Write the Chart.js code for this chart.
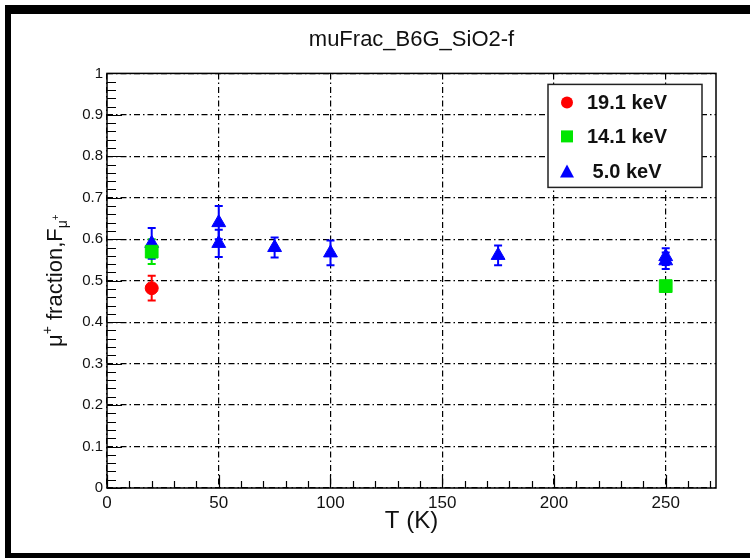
<!DOCTYPE html>
<html>
<head>
<meta charset="utf-8">
<script src="https://cdn.jsdelivr.net/npm/chart.js@4.4.0/dist/chart.umd.min.js"></script>
<style>
    html, body { margin: 0; padding: 0; background: #fff; }
    #wrap { position: relative; width: 750px; height: 558px; overflow: hidden; }
    #frame {
        position: absolute; left: 5px; top: 5px; width: 745px; height: 553px;
        box-sizing: border-box; pointer-events: none;
        border-top: 9px solid #000; border-left: 6px solid #000; border-bottom: 5px solid #000;
    }
    canvas { position: absolute; left: 0; top: 0; }
</style>
</head>
<body>
<div id="wrap">
    <canvas id="chart" width="750" height="558"></canvas>
    <div id="frame"></div>
</div>
<script>
// chart texts
const chartTitle = 'muFrac_B6G_SiO2-f';
const xTitle = 'T (K)';
const seriesLabels = ['19.1 keV', '14.1 keV', '5.0 keV'];
const seriesColors = ['#ff0000', '#00e600', '#0000ff'];
const seriesStyles = ['circle', 'rect', 'triangle'];

// 19.1 keV
const temps19 = [20];
const frac19 = [0.482];
const err19 = [0.03];

// 14.1 keV
const temps14 = [20, 250];
const frac14 = [0.57, 0.487];
const err14 = [0.03, 0.01];

// 5.0 keV
const temps5 = [20, 50, 50, 75, 100, 175, 250, 250];
const frac5 = [0.59, 0.64, 0.59, 0.58, 0.567, 0.561, 0.558, 0.548];
const err5 = [0.037, 0.04, 0.033, 0.024, 0.03, 0.024, 0.02, 0.02];

// axes
const xMin = 0, xMax = 272.5, xStep = 50, xMinorStep = 10;
const yMin = 0, yMax = 1, yStep = 0.1, yMinorStep = 0.02;

const FONT = "'Liberation Sans', Arial, sans-serif";

const toPoints = (xs, ys, es) => xs.map((x, i) => ({ x: x, y: ys[i], err: es[i] }));

const allSeries = [
    toPoints(temps19, frac19, err19),
    toPoints(temps14, frac14, err14),
    toPoints(temps5, frac5, err5),
];

const radii = [6.5, 9, 8];

const datasets = allSeries.map((pts, i) => ({
    label: seriesLabels[i],
    data: pts,
    pointStyle: seriesStyles[i],
    pointRadius: radii[i],
    pointBackgroundColor: seriesColors[i],
    pointBorderColor: seriesColors[i],
    pointBorderWidth: 1,
    showLine: false,
}));

// ROOT-like decorations: error bars, frame, minor ticks, legend, y title
const rootDecor = {
    id: 'rootDecor',
    beforeDatasetsDraw(chart) {
        const ctx = chart.ctx;
        const xs = chart.scales.x, ys = chart.scales.y;
        ctx.save();
        ctx.lineWidth = 2;
        chart.data.datasets.forEach((ds, i) => {
            ctx.strokeStyle = seriesColors[i];
            ds.data.forEach((p) => {
                const px = xs.getPixelForValue(p.x);
                const top = ys.getPixelForValue(p.y + p.err);
                const bot = ys.getPixelForValue(p.y - p.err);
                ctx.beginPath();
                ctx.moveTo(px, top); ctx.lineTo(px, bot);
                ctx.moveTo(px - 4, top); ctx.lineTo(px + 4, top);
                ctx.moveTo(px - 4, bot); ctx.lineTo(px + 4, bot);
                ctx.stroke();
            });
        });
        ctx.restore();
    },
    afterDraw(chart) {
        const ctx = chart.ctx;
        const a = chart.chartArea;
        const xs = chart.scales.x, ys = chart.scales.y;
        ctx.save();

        // frame
        ctx.strokeStyle = '#000';
        ctx.lineWidth = 1.5;
        ctx.strokeRect(a.left, a.top, a.right - a.left, a.bottom - a.top);

        // ticks
        ctx.lineWidth = 1.2;
        ctx.beginPath();
        for (let v = yMin; v <= yMax + 1e-9; v += yMinorStep) {
            const major = Math.abs(v / yStep - Math.round(v / yStep)) < 1e-6;
            const py = Math.round(ys.getPixelForValue(v)) + 0.5;
            ctx.moveTo(a.left, py);
            ctx.lineTo(a.left + (major ? 15 : 9), py);
        }
        for (let v = xMin; v <= xMax + 1e-9; v += xMinorStep) {
            const major = v % xStep === 0;
            const px = Math.round(xs.getPixelForValue(v)) + 0.5;
            ctx.moveTo(px, a.bottom);
            ctx.lineTo(px, a.bottom - (major ? 13 : 7));
        }
        ctx.stroke();

        // legend
        const lx = a.right - 168, ly = a.top + 11, lw = 154, lh = 103;
        ctx.fillStyle = '#fff';
        ctx.fillRect(lx, ly, lw, lh);
        ctx.strokeStyle = '#222';
        ctx.lineWidth = 1.5;
        ctx.strokeRect(lx, ly, lw, lh);
        ctx.font = 'bold 20px ' + FONT;
        ctx.textAlign = 'center';
        ctx.textBaseline = 'middle';
        const rowY = [ly + 18, ly + 52, ly + 87];
        seriesLabels.forEach((lab, i) => {
            const mx = lx + 19, my = rowY[i];
            ctx.fillStyle = seriesColors[i];
            ctx.beginPath();
            if (seriesStyles[i] === 'circle') {
                ctx.arc(mx, my, 6, 0, Math.PI * 2);
            } else if (seriesStyles[i] === 'rect') {
                ctx.rect(mx - 6, my - 6, 12, 12);
            } else {
                ctx.moveTo(mx, my - 7); ctx.lineTo(mx + 7, my + 6); ctx.lineTo(mx - 7, my + 6);
                ctx.closePath();
            }
            ctx.fill();
            ctx.fillStyle = '#111';
            ctx.fillText(lab, lx + 79, my + 1);
        });

        // y axis title: mu+ fraction,F_mu+
        ctx.translate(62, (a.top + a.bottom) / 2);
        ctx.rotate(-Math.PI / 2);
        ctx.fillStyle = '#111';
        ctx.textAlign = 'left';
        ctx.textBaseline = 'alphabetic';
        const parts = [
            { t: '\u03bc', s: 22, dy: 0 },
            { t: '+', s: 14, dy: -10 },
            { t: ' fraction,F', s: 22, dy: 0 },
            { t: '\u03bc', s: 14, dy: 5 },
            { t: '+', s: 10, dy: -3 },
        ];
        let total = 0;
        parts.forEach((p) => { ctx.font = p.s + 'px ' + FONT; p.w = ctx.measureText(p.t).width; total += p.w; });
        let cx = -total / 2;
        parts.forEach((p) => {
            ctx.font = p.s + 'px ' + FONT;
            ctx.fillText(p.t, cx, p.dy);
            cx += p.w;
        });
        ctx.restore();
    },
};

const gridStyle = { color: '#000', lineWidth: 1.2, drawTicks: false };
const gridDash = { display: false, dash: [6, 3, 1.5, 3] };

new Chart(document.getElementById('chart'), {
    type: 'scatter',
    data: { datasets: datasets },
    options: {
        responsive: false,
        animation: false,
        layout: { padding: { left: 0, right: 34, top: 0, bottom: 0 } },
        plugins: {
            legend: { display: false },
            tooltip: { enabled: false },
            title: {
                display: true,
                text: chartTitle,
                fullSize: false,
                color: '#111',
                font: { family: FONT, size: 22, weight: 'normal' },
                padding: { top: 27, bottom: 20 },
            },
        },
        scales: {
            x: {
                type: 'linear',
                min: xMin,
                max: xMax,
                afterFit: (s) => { s.height = 70; },
                grid: gridStyle,
                border: gridDash,
                ticks: {
                    stepSize: xStep,
                    includeBounds: false,
                    maxRotation: 0,
                    padding: 5,
                    color: '#111',
                    font: { family: FONT, size: 17 },
                },
                title: {
                    display: true,
                    text: xTitle,
                    color: '#111',
                    font: { family: FONT, size: 24 },
                    padding: { top: 0, bottom: 22 },
                },
            },
            y: {
                type: 'linear',
                min: yMin,
                max: yMax,
                afterFit: (s) => { s.width = 107; },
                grid: gridStyle,
                border: gridDash,
                ticks: {
                    stepSize: yStep,
                    padding: 4,
                    color: '#111',
                    font: { family: FONT, size: 15 },
                    callback: (v) => String(Math.round(v * 10) / 10),
                },
            },
        },
    },
    plugins: [rootDecor],
});
</script>
</body>
</html>
